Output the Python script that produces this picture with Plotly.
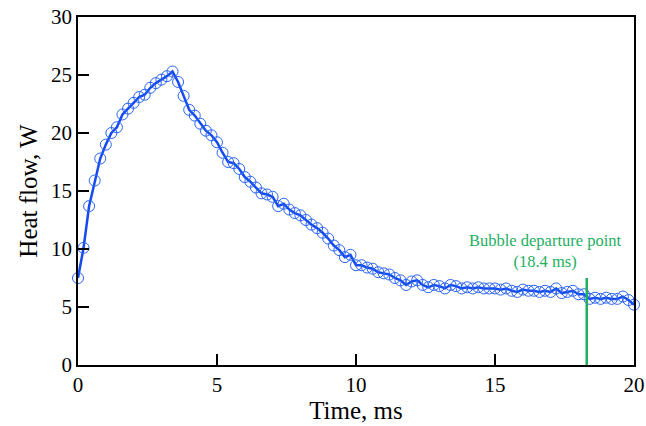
import plotly.graph_objects as go

time_ms = [round(i * 0.2, 1) for i in range(101)]
heat_flow = [
    7.5, 10.1, 13.7, 15.9, 17.8, 19.0, 20.0, 20.5, 21.6, 22.1,
    22.6, 23.1, 23.3, 23.9, 24.3, 24.6, 24.9, 25.3, 24.4, 23.2,
    22.0, 21.5, 20.8, 20.2, 19.8, 19.2, 18.3, 17.5, 17.4, 16.9,
    16.2, 15.8, 15.3, 14.8, 14.7, 14.5, 13.7, 13.9, 13.4, 13.1,
    12.9, 12.5, 12.1, 11.8, 11.4, 10.9, 10.3, 9.9, 9.3, 9.5,
    8.6, 8.6, 8.4, 8.3, 8.0, 7.9, 7.8, 7.5, 7.3, 6.9,
    7.2, 7.3, 6.9, 6.7, 6.9, 6.8, 6.6, 6.9, 6.8, 6.6,
    6.7, 6.6, 6.7, 6.6, 6.6, 6.6, 6.5, 6.6, 6.4, 6.3,
    6.5, 6.4, 6.4, 6.3, 6.4, 6.3, 6.6, 6.2, 6.3, 6.4,
    6.1, 6.1, 5.7, 5.8, 5.7, 5.8, 5.7, 5.7, 5.9, 5.6,
    5.2,
]
departure_t = [18.3, 18.3]
departure_y = [0, 7.5]
annotation_lines = ["Bubble departure point", "(18.4 ms)"]

x_ticks = [0, 5, 10, 15, 20]
y_ticks = [0, 5, 10, 15, 20, 25, 30]

blue = "rgb(20,75,240)"
green = "rgb(30,175,95)"
serif = "Liberation Serif, Times New Roman, serif"

fig = go.Figure()
fig.add_trace(go.Scatter(
    x=time_ms, y=heat_flow, mode="lines+markers",
    line=dict(color=blue, width=2.5),
    marker=dict(symbol="circle-open", size=11, color="rgb(40,100,245)", line=dict(width=1)),
    showlegend=False, cliponaxis=False,
))
fig.add_trace(go.Scatter(
    x=departure_t, y=departure_y, mode="lines",
    line=dict(color=green, width=2.5), showlegend=False,
))
fig.add_annotation(
    x=16.8, y=9.8, xref="x", yref="y",
    text="<br>".join(annotation_lines), showarrow=False,
    font=dict(family=serif, size=16.5, color=green), align="center",
)

axis_common = dict(
    showgrid=False, zeroline=False, showline=True, linecolor="black", linewidth=1.5,
    mirror=True, ticks="inside", ticklen=11, tickwidth=1.5, tickcolor="black",
    tickfont=dict(family=serif, size=21, color="black"), automargin=False,
)
fig.update_xaxes(range=[0, 20], tickvals=x_ticks,
                 title=dict(text="Time, ms", font=dict(family=serif, size=25, color="black"), standoff=2),
                 **axis_common)
fig.update_yaxes(range=[0, 30], tickvals=y_ticks,
                 title=dict(text="Heat flow, W", font=dict(family=serif, size=25, color="black"), standoff=6),
                 **axis_common)
fig.update_layout(
    width=646, height=426,
    margin=dict(l=78, r=12, t=17, b=61, autoexpand=False),
    plot_bgcolor="white", paper_bgcolor="white",
)
fig.write_html("out.html", config={"displayModeBar": False},
               post_script="document.body.style.margin='0';")
